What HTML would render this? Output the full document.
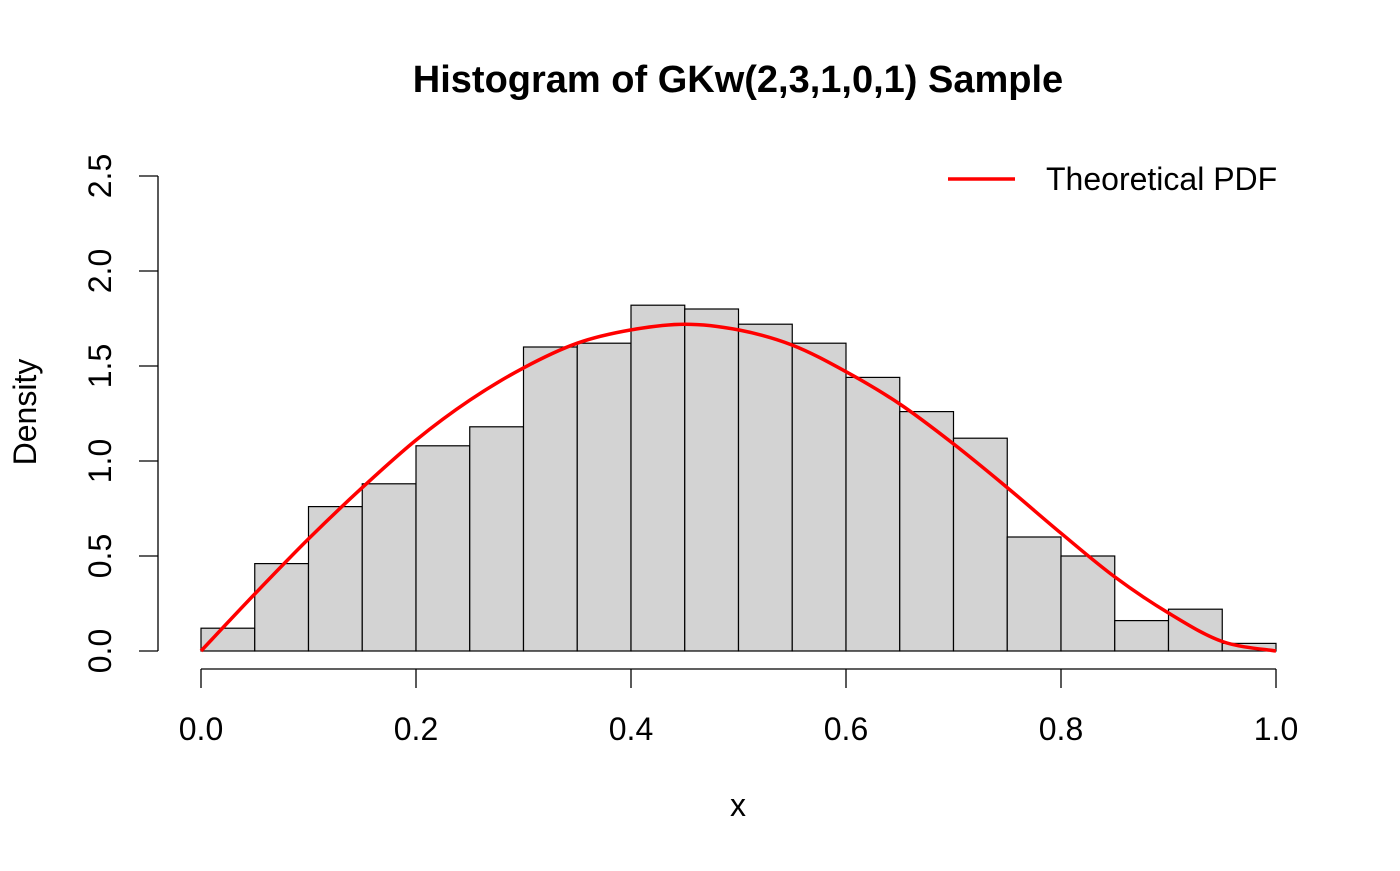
<!DOCTYPE html>
<html><head><meta charset="utf-8"><style>
body{margin:0;background:#fff}
svg text{font-family:"Liberation Sans",Arial,sans-serif;fill:#000}
</style></head><body>
<svg id="chart" width="1400" height="866" viewBox="0 0 1400 866">
<text x="738" y="92" text-anchor="middle" font-size="38" font-weight="bold">Histogram of GKw(2,3,1,0,1) Sample</text>
<text x="738" y="816" text-anchor="middle" font-size="32">x</text>
<text transform="translate(36,412) rotate(-90)" text-anchor="middle" font-size="32">Density</text>
<g id="bars"></g>
<g id="axes"></g>
<path id="pdf" fill="none" stroke="#ff0000" stroke-width="3.5"></path>
<g>
<line x1="948" y1="179" x2="1015" y2="179" stroke="#ff0000" stroke-width="3.5"></line>
<text x="1046" y="190" font-size="32">Theoretical PDF</text>
</g>
</svg>
<script>
const binStarts=[0,0.05,0.1,0.15,0.2,0.25,0.3,0.35,0.4,0.45,0.5,0.55,0.6,0.65,0.7,0.75,0.8,0.85,0.9,0.95];
const densities=[0.12,0.46,0.76,0.88,1.08,1.18,1.60,1.62,1.82,1.80,1.72,1.62,1.44,1.26,1.12,0.60,0.50,0.16,0.22,0.04];
const pdfX=[0,0.05,0.1,0.15,0.2,0.25,0.3,0.35,0.4,0.45,0.5,0.55,0.6,0.65,0.7,0.75,0.8,0.85,0.9,0.95,1];
const pdfY=[0,0.30,0.59,0.86,1.11,1.32,1.49,1.62,1.69,1.72,1.69,1.61,1.47,1.30,1.09,0.86,0.62,0.39,0.20,0.05,0];
const xTicks=[0,0.2,0.4,0.6,0.8,1.0];
const xTickLabels=["0.0","0.2","0.4","0.6","0.8","1.0"];
const yTicks=[0,0.5,1,1.5,2,2.5];
const yTickLabels=["0.0","0.5","1.0","1.5","2.0","2.5"];
const binWidth=0.05;
const X=v=>201+v*1075;
const Y=v=>651-v*190;
const NS="http://www.w3.org/2000/svg";
const bars=document.getElementById('bars');
binStarts.forEach((s,i)=>{
  const r=document.createElementNS(NS,'rect');
  r.setAttribute('x',X(s));r.setAttribute('width',X(s+binWidth)-X(s));
  r.setAttribute('y',Y(densities[i]));r.setAttribute('height',Y(0)-Y(densities[i]));
  r.setAttribute('fill','#d3d3d3');r.setAttribute('stroke','#000');r.setAttribute('stroke-width','1.2');
  
  
  bars.appendChild(r);
});
const axes=document.getElementById('axes');
function ln(x1,y1,x2,y2,name){const l=document.createElementNS(NS,'line');l.setAttribute('x1',x1);l.setAttribute('y1',y1);l.setAttribute('x2',x2);l.setAttribute('y2',y2);l.setAttribute('stroke','#000');l.setAttribute('stroke-width','1.3');


axes.appendChild(l);}
function tx(x,y,s,rot,name){const t=document.createElementNS(NS,'text');t.setAttribute('font-size','32');t.setAttribute('text-anchor','middle');
if(rot){t.setAttribute('transform','translate('+x+','+y+') rotate(-90)');}else{t.setAttribute('x',x);t.setAttribute('y',y);}
t.textContent=s;


axes.appendChild(t);}
ln(X(xTicks[0]),669,X(xTicks[xTicks.length-1]),669,'x-axis-line');
xTicks.forEach((v,i)=>{ln(X(v),669,X(v),688,'x-tick');tx(X(v),740,xTickLabels[i],false,'x-tick-label');});
ln(158,Y(yTicks[0]),158,Y(yTicks[yTicks.length-1]),'y-axis-line');
yTicks.forEach((v,i)=>{ln(139,Y(v),158,Y(v),'y-tick');tx(111,Y(v),yTickLabels[i],true,'y-tick-label');});
const P=pdfX.map((x,i)=>[X(x),Y(pdfY[i])]);
let d='M'+P[0][0]+','+P[0][1];
for(let i=0;i<P.length-1;i++){
  const p0=P[Math.max(i-1,0)],p1=P[i],p2=P[i+1],p3=P[Math.min(i+2,P.length-1)];
  const c1=[p1[0]+(p2[0]-p0[0])/6,p1[1]+(p2[1]-p0[1])/6];
  const c2=[p2[0]-(p3[0]-p1[0])/6,p2[1]-(p3[1]-p1[1])/6];
  d+=' C'+c1[0]+','+c1[1]+' '+c2[0]+','+c2[1]+' '+p2[0]+','+p2[1];
}
document.getElementById('pdf').setAttribute('d',d);
</script>
</body></html>
